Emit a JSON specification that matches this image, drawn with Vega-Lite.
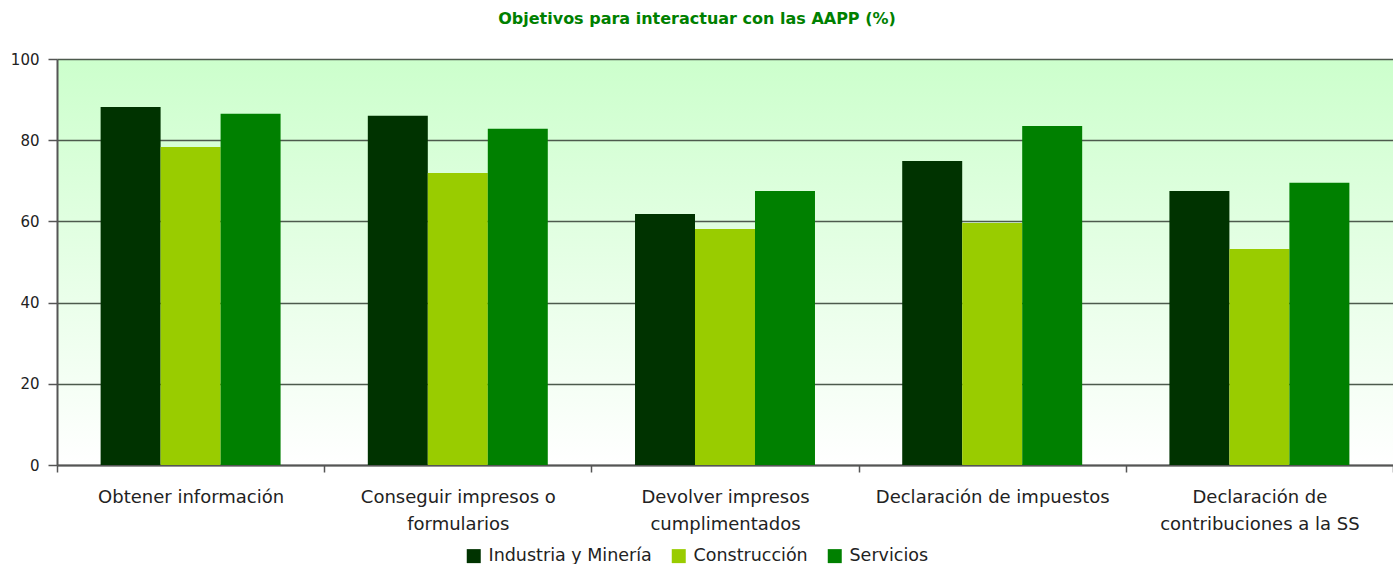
{
  "$schema": "https://vega.github.io/schema/vega-lite/v6.json",
  "autosize": {"type": "none"},
  "width": 1336,
  "height": 406,
  "padding": {"left": 57, "top": 59, "right": 0, "bottom": 99},
  "background": "white",
  "title": {
    "text": "Objetivos para interactuar con las AAPP (%)",
    "color": "#008000",
    "font": "DejaVu Sans",
    "fontSize": 16,
    "fontWeight": "bold",
    "anchor": "middle",
    "frame": "group",
    "dx": -28,
    "offset": 25
  },
  "config": {
    "font": "DejaVu Sans",
    "view": {
      "stroke": null,
      "fill": {"gradient": "linear", "x1": 0, "y1": 0, "x2": 0, "y2": 1,
        "stops": [{"offset": 0, "color": "#ccffcc"}, {"offset": 1, "color": "#ffffff"}]}
    }
  },
  "data": {
    "values": [
      {"cat": "Obtener información", "serie": "Industria y Minería", "valor": 88.2},
      {"cat": "Obtener información", "serie": "Construcción", "valor": 78.3},
      {"cat": "Obtener información", "serie": "Servicios", "valor": 86.5},
      {"cat": "Conseguir impresos o formularios", "serie": "Industria y Minería", "valor": 86.0},
      {"cat": "Conseguir impresos o formularios", "serie": "Construcción", "valor": 71.9},
      {"cat": "Conseguir impresos o formularios", "serie": "Servicios", "valor": 82.8},
      {"cat": "Devolver impresos cumplimentados", "serie": "Industria y Minería", "valor": 61.8},
      {"cat": "Devolver impresos cumplimentados", "serie": "Construcción", "valor": 58.1},
      {"cat": "Devolver impresos cumplimentados", "serie": "Servicios", "valor": 67.5},
      {"cat": "Declaración de impuestos", "serie": "Industria y Minería", "valor": 74.9},
      {"cat": "Declaración de impuestos", "serie": "Construcción", "valor": 59.6},
      {"cat": "Declaración de impuestos", "serie": "Servicios", "valor": 83.5},
      {"cat": "Declaración de contribuciones a la SS", "serie": "Industria y Minería", "valor": 67.5},
      {"cat": "Declaración de contribuciones a la SS", "serie": "Construcción", "valor": 53.2},
      {"cat": "Declaración de contribuciones a la SS", "serie": "Servicios", "valor": 69.5}
    ]
  },
  "mark": {"type": "bar"},
  "encoding": {
    "x": {
      "field": "cat",
      "type": "nominal",
      "sort": null,
      "title": null,
      "scale": {"paddingInner": 0, "paddingOuter": 0},
      "axis": {
        "labelAngle": 0,
        "labelFont": "DejaVu Sans",
        "labelFontSize": 18,
        "labelColor": "#222222",
        "labelLineHeight": 27,
        "labelPadding": 16,
        "labelLimit": 300,
        "tickBand": "extent",
        "tickSize": 7,
        "tickColor": "#555555",
        "tickWidth": 1.5,
        "domainColor": "#555555",
        "domainWidth": 2,
        "labelExpr": "datum.value == 'Conseguir impresos o formularios' ? ['Conseguir impresos o', 'formularios'] : datum.value == 'Devolver impresos cumplimentados' ? ['Devolver impresos', 'cumplimentados'] : datum.value == 'Declaración de contribuciones a la SS' ? ['Declaración de', 'contribuciones a la SS'] : datum.value"
      }
    },
    "xOffset": {"field": "serie", "type": "nominal", "sort": ["Industria y Minería", "Construcción", "Servicios"], "scale": {"paddingInner": 0, "paddingOuter": 0.727}},
    "y": {
      "field": "valor",
      "type": "quantitative",
      "title": null,
      "scale": {"domain": [0, 100], "nice": false},
      "axis": {
        "values": [0, 20, 40, 60, 80, 100],
        "labelFont": "DejaVu Sans",
        "labelFontSize": 15,
        "labelColor": "#222222",
        "labelPadding": 9,
        "tickSize": 9,
        "tickColor": "#555555",
        "tickWidth": 1.5,
        "domainColor": "#555555",
        "domainWidth": 2,
        "grid": true,
        "gridColor": "#4d5a4d",
        "gridWidth": 1.5
      }
    },
    "color": {
      "field": "serie",
      "type": "nominal",
      "sort": ["Industria y Minería", "Construcción", "Servicios"],
      "scale": {"domain": ["Industria y Minería", "Construcción", "Servicios"], "range": ["#003300", "#99cc00", "#008000"]},
      "legend": {
        "title": null,
        "orient": "none",
        "direction": "horizontal",
        "legendX": 408,
        "legendY": 488,
        "symbolType": "square",
        "symbolSize": 196,
        "symbolStrokeWidth": 0,
        "labelFont": "DejaVu Sans",
        "labelFontSize": 17.5,
        "labelLimit": 300,
        "labelColor": "#222222",
        "columnPadding": 18,
        "labelOffset": 6
      }
    }
  }
}
